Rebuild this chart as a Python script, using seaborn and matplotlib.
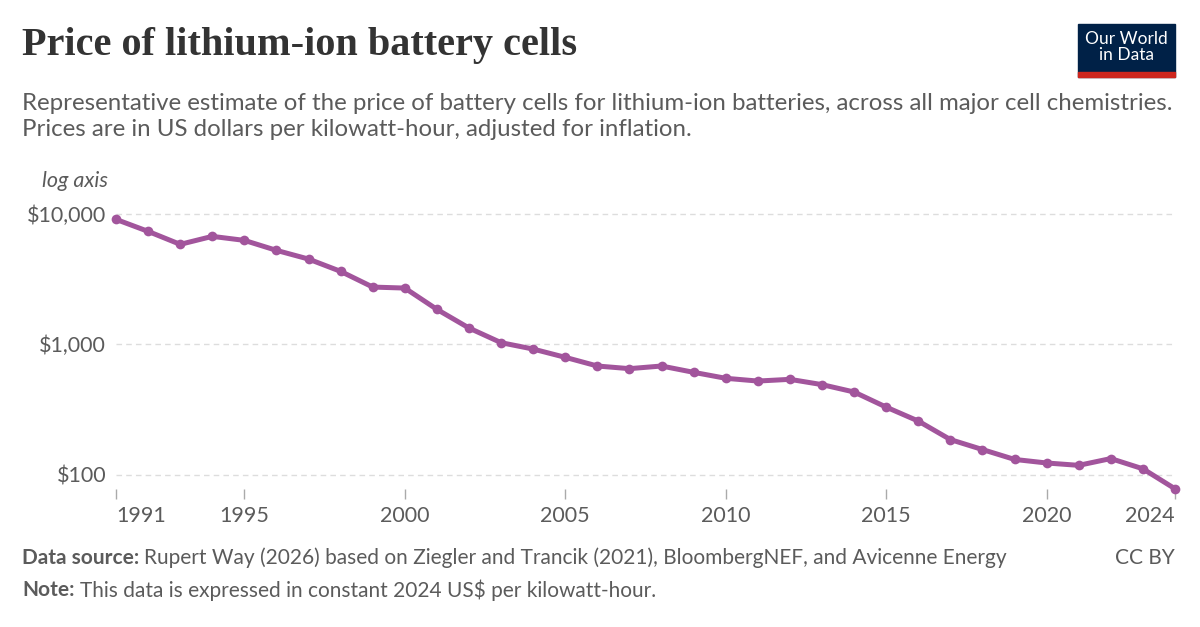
import matplotlib
matplotlib.use("Agg")
import matplotlib.pyplot as plt
import matplotlib.patches as patches
import matplotlib.ticker as mticker
import seaborn as sns
import pandas as pd

# ---------------------------------------------------------------------
# data (US$ per kWh, constant 2024 US$)
years = list(range(1991, 2025))
prices = [9090, 7355, 5847, 6733, 6273, 5259, 4510, 3629, 2750, 2702,
          1855, 1334, 1030, 920, 795, 682, 651, 682, 610, 549,
          523, 539, 491, 431, 330, 258, 186, 156, 131, 123,
          118, 133, 111, 78]
x_ticks = [1991, 1995, 2000, 2005, 2010, 2015, 2020, 2024]
y_ticks = [100, 1000, 10000]
y_labels = ["$100", "$1,000", "$10,000"]

df = pd.DataFrame({"Year": years, "Price": prices})

# ---------------------------------------------------------------------
sns.set_style("white")
plt.rcParams["font.family"] = ["Lato", "DejaVu Sans"]

W, H = 1200, 627
fig = plt.figure(figsize=(12, 6.27), dpi=100)

def fx(px):
    return px / W

def fy(py):
    return 1 - py / H

grey = "#5b5b5b"
ax = fig.add_axes([fx(116), fy(489), fx(1175) - fx(116), fy(200) - fy(489)])

purple = "#a2559c"
sns.lineplot(data=df, x="Year", y="Price", ax=ax, color=purple, linewidth=3.6,
             marker="o", markersize=7, markeredgewidth=0, clip_on=False)

ax.set_yscale("log")
ax.set_xlim(1991, 2024)
ax.set_ylim(77.7, 12800)
ax.set_yticks(y_ticks)
ax.set_yticklabels(y_labels)
ax.yaxis.set_minor_locator(mticker.NullLocator())
ax.set_xticks(x_ticks)
ax.set_xticklabels([str(t) for t in x_ticks])
ax.set_xlabel("")
ax.set_ylabel("")
for s in ax.spines.values():
    s.set_visible(False)

ax.grid(axis="y", color="#dddddd", linestyle=(0, (4, 3)), linewidth=1)
ax.grid(axis="x", visible=False)
ax.tick_params(axis="x", which="major", length=7, width=1, color="#aaaaaa",
               labelsize=15.5, labelcolor=grey, pad=5, bottom=True)
ax.tick_params(axis="y", which="major", length=0, labelsize=15.5,
               labelcolor=grey, pad=7)
xl = ax.get_xticklabels()
xl[0].set_ha("left")
xl[-1].set_ha("right")

# ---------------------------------------------------------------------
# header text
fig.text(fx(22), fy(45), "Price of lithium-ion battery cells",
         family=["Liberation Serif", "DejaVu Serif"], fontweight="bold",
         fontsize=29, color="#333333", va="center", ha="left")
fig.text(fx(22), fy(103),
         "Representative estimate of the price of battery cells for lithium-ion batteries, across all major cell chemistries.",
         fontsize=17.3, color=grey, va="center", ha="left")
fig.text(fx(22), fy(130),
         "Prices are in US dollars per kilowatt-hour, adjusted for inflation.",
         fontsize=17.3, color=grey, va="center", ha="left")
fig.text(fx(42), fy(181), "log axis", fontsize=15.5, style="italic",
         color=grey, va="center", ha="left")

# logo
fig.patches.append(patches.Rectangle((fx(1078), fy(77)), fx(97), fy(24) - fy(77),
                                     transform=fig.transFigure, color="#002147"))
fig.patches.append(patches.Rectangle((fx(1078), fy(77)), fx(97), fy(72) - fy(77),
                                     transform=fig.transFigure, color="#ce261e"))
fig.text(fx(1126.5), fy(47), "Our World\nin Data", fontsize=12.5, color="white",
         ha="center", va="center", linespacing=1.0)

# footer: bold label followed by normal text
renderer = fig.canvas.get_renderer()

def footer(y, label, rest):
    t = fig.text(fx(22), fy(y), label, fontsize=15, fontweight="bold",
                 color=grey, va="center", ha="left")
    bb = t.get_window_extent(renderer)
    fig.text(bb.x1 / W + fx(5), fy(y), rest, fontsize=15, color=grey,
             va="center", ha="left")

footer(558, "Data source:",
       "Rupert Way (2026) based on Ziegler and Trancik (2021), BloombergNEF, and Avicenne Energy")
footer(590, "Note:", "This data is expressed in constant 2024 US$ per kilowatt-hour.")
fig.text(fx(1175), fy(558), "CC BY", fontsize=15, color=grey,
         va="center", ha="right")

fig.savefig("out.png", dpi=100)
